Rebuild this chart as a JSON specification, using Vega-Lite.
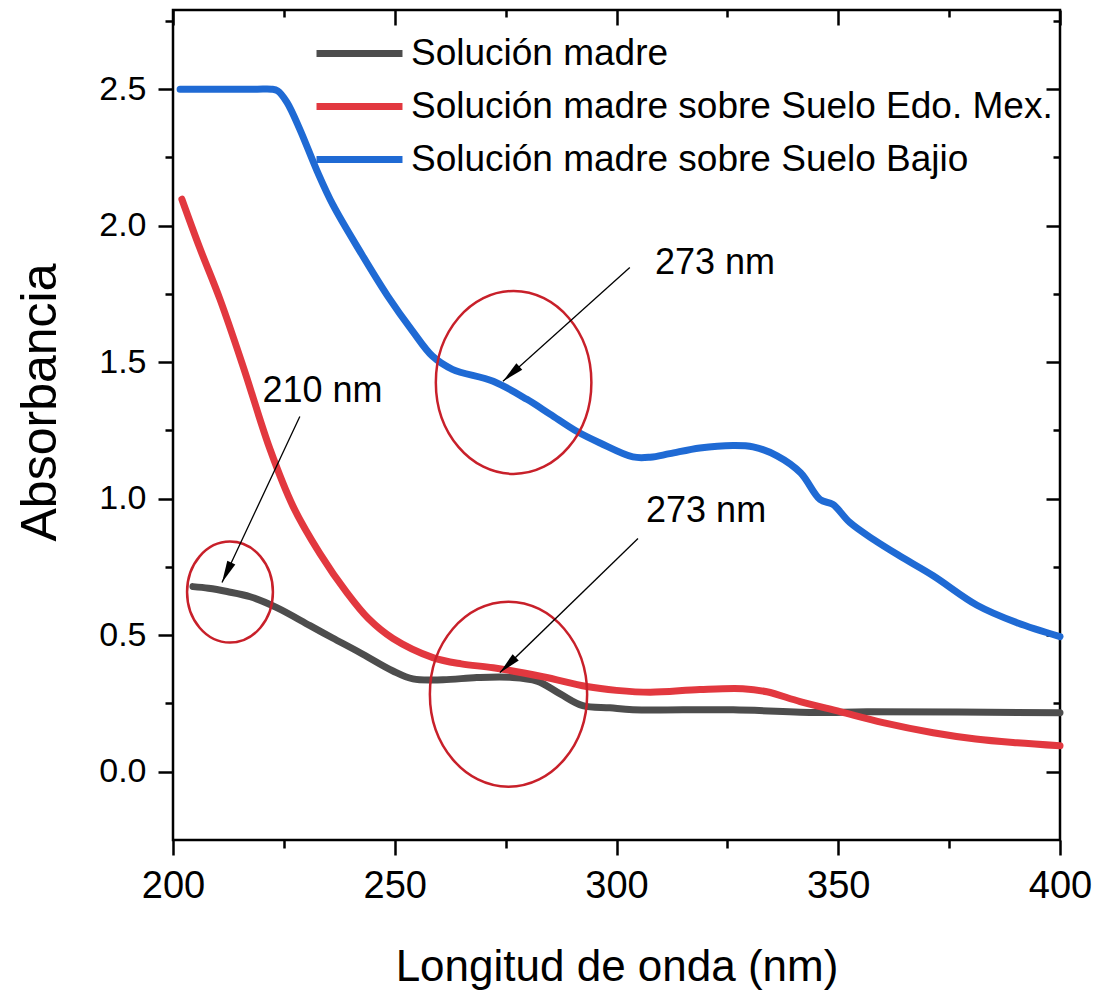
{
  "$schema": "https://vega.github.io/schema/vega-lite/v6.json",
  "width": 887,
  "height": 830,
  "autosize": {"type": "none"},
  "padding": {"left": 173, "top": 10, "right": 60, "bottom": 150},
  "background": "white",
  "config": {
    "font": "Liberation Sans",
    "view": {"stroke": "black", "strokeWidth": 2.5},
    "axis": {"grid": false, "domain": false, "tickColor": "black", "tickWidth": 2.5, "labelColor": "black", "titleColor": "black", "titleFontWeight": "normal"}
  },
  "datasets": {
    "series": [
      {"serie": "Solución madre", "wl": 204.5, "abs": 0.678},
      {"serie": "Solución madre", "wl": 208, "abs": 0.672},
      {"serie": "Solución madre", "wl": 212.2, "abs": 0.660},
      {"serie": "Solución madre", "wl": 217.4, "abs": 0.641},
      {"serie": "Solución madre", "wl": 223.4, "abs": 0.601},
      {"serie": "Solución madre", "wl": 230.9, "abs": 0.535},
      {"serie": "Solución madre", "wl": 236, "abs": 0.49},
      {"serie": "Solución madre", "wl": 242.2, "abs": 0.436},
      {"serie": "Solución madre", "wl": 249.6, "abs": 0.369},
      {"serie": "Solución madre", "wl": 254.1, "abs": 0.340},
      {"serie": "Solución madre", "wl": 260.9, "abs": 0.337},
      {"serie": "Solución madre", "wl": 268.5, "abs": 0.345},
      {"serie": "Solución madre", "wl": 276.0, "abs": 0.346},
      {"serie": "Solución madre", "wl": 282.1, "abs": 0.332},
      {"serie": "Solución madre", "wl": 287.3, "abs": 0.285},
      {"serie": "Solución madre", "wl": 292.4, "abs": 0.242},
      {"serie": "Solución madre", "wl": 298.5, "abs": 0.234},
      {"serie": "Solución madre", "wl": 303.7, "abs": 0.227},
      {"serie": "Solución madre", "wl": 326.3, "abs": 0.227},
      {"serie": "Solución madre", "wl": 345.2, "abs": 0.217},
      {"serie": "Solución madre", "wl": 356.5, "abs": 0.220},
      {"serie": "Solución madre", "wl": 400, "abs": 0.216},
      {"serie": "Solución madre sobre Suelo Edo. Mex.", "wl": 202.0, "abs": 2.097},
      {"serie": "Solución madre sobre Suelo Edo. Mex.", "wl": 206, "abs": 1.92},
      {"serie": "Solución madre sobre Suelo Edo. Mex.", "wl": 210.6, "abs": 1.730},
      {"serie": "Solución madre sobre Suelo Edo. Mex.", "wl": 215.8, "abs": 1.485},
      {"serie": "Solución madre sobre Suelo Edo. Mex.", "wl": 221.9, "abs": 1.180},
      {"serie": "Solución madre sobre Suelo Edo. Mex.", "wl": 227.1, "abs": 0.971},
      {"serie": "Solución madre sobre Suelo Edo. Mex.", "wl": 233.1, "abs": 0.800},
      {"serie": "Solución madre sobre Suelo Edo. Mex.", "wl": 239.2, "abs": 0.656},
      {"serie": "Solución madre sobre Suelo Edo. Mex.", "wl": 244, "abs": 0.562},
      {"serie": "Solución madre sobre Suelo Edo. Mex.", "wl": 249.6, "abs": 0.488},
      {"serie": "Solución madre sobre Suelo Edo. Mex.", "wl": 258.6, "abs": 0.418},
      {"serie": "Solución madre sobre Suelo Edo. Mex.", "wl": 265, "abs": 0.395},
      {"serie": "Solución madre sobre Suelo Edo. Mex.", "wl": 272.2, "abs": 0.381},
      {"serie": "Solución madre sobre Suelo Edo. Mex.", "wl": 283.4, "abs": 0.348},
      {"serie": "Solución madre sobre Suelo Edo. Mex.", "wl": 293.3, "abs": 0.312},
      {"serie": "Solución madre sobre Suelo Edo. Mex.", "wl": 300, "abs": 0.298},
      {"serie": "Solución madre sobre Suelo Edo. Mex.", "wl": 307.6, "abs": 0.291},
      {"serie": "Solución madre sobre Suelo Edo. Mex.", "wl": 318.8, "abs": 0.301},
      {"serie": "Solución madre sobre Suelo Edo. Mex.", "wl": 328.5, "abs": 0.304},
      {"serie": "Solución madre sobre Suelo Edo. Mex.", "wl": 333.9, "abs": 0.293},
      {"serie": "Solución madre sobre Suelo Edo. Mex.", "wl": 341.4, "abs": 0.257},
      {"serie": "Solución madre sobre Suelo Edo. Mex.", "wl": 350.4, "abs": 0.220},
      {"serie": "Solución madre sobre Suelo Edo. Mex.", "wl": 360.1, "abs": 0.180},
      {"serie": "Solución madre sobre Suelo Edo. Mex.", "wl": 371.4, "abs": 0.143},
      {"serie": "Solución madre sobre Suelo Edo. Mex.", "wl": 381, "abs": 0.120},
      {"serie": "Solución madre sobre Suelo Edo. Mex.", "wl": 390.3, "abs": 0.106},
      {"serie": "Solución madre sobre Suelo Edo. Mex.", "wl": 400, "abs": 0.095},
      {"serie": "Solución madre sobre Suelo Bajio", "wl": 201.6, "abs": 2.5},
      {"serie": "Solución madre sobre Suelo Bajio", "wl": 212, "abs": 2.5},
      {"serie": "Solución madre sobre Suelo Bajio", "wl": 219, "abs": 2.5},
      {"serie": "Solución madre sobre Suelo Bajio", "wl": 222.2, "abs": 2.5},
      {"serie": "Solución madre sobre Suelo Bajio", "wl": 223.6, "abs": 2.494},
      {"serie": "Solución madre sobre Suelo Bajio", "wl": 225.7, "abs": 2.452},
      {"serie": "Solución madre sobre Suelo Bajio", "wl": 228.6, "abs": 2.353},
      {"serie": "Solución madre sobre Suelo Bajio", "wl": 232.5, "abs": 2.200},
      {"serie": "Solución madre sobre Suelo Bajio", "wl": 236.1, "abs": 2.075},
      {"serie": "Solución madre sobre Suelo Bajio", "wl": 242.2, "abs": 1.905},
      {"serie": "Solución madre sobre Suelo Bajio", "wl": 248.3, "abs": 1.745},
      {"serie": "Solución madre sobre Suelo Bajio", "wl": 254.1, "abs": 1.612},
      {"serie": "Solución madre sobre Suelo Bajio", "wl": 258.5, "abs": 1.522},
      {"serie": "Solución madre sobre Suelo Bajio", "wl": 263, "abs": 1.474},
      {"serie": "Solución madre sobre Suelo Bajio", "wl": 272.2, "abs": 1.430},
      {"serie": "Solución madre sobre Suelo Bajio", "wl": 279.8, "abs": 1.364},
      {"serie": "Solución madre sobre Suelo Bajio", "wl": 285, "abs": 1.31},
      {"serie": "Solución madre sobre Suelo Bajio", "wl": 291.1, "abs": 1.246},
      {"serie": "Solución madre sobre Suelo Bajio", "wl": 296.3, "abs": 1.204},
      {"serie": "Solución madre sobre Suelo Bajio", "wl": 303.7, "abs": 1.153},
      {"serie": "Solución madre sobre Suelo Bajio", "wl": 307.6, "abs": 1.152},
      {"serie": "Solución madre sobre Suelo Bajio", "wl": 312, "abs": 1.165},
      {"serie": "Solución madre sobre Suelo Bajio", "wl": 318.8, "abs": 1.186},
      {"serie": "Solución madre sobre Suelo Bajio", "wl": 326.3, "abs": 1.195},
      {"serie": "Solución madre sobre Suelo Bajio", "wl": 330.8, "abs": 1.190},
      {"serie": "Solución madre sobre Suelo Bajio", "wl": 336.2, "abs": 1.157},
      {"serie": "Solución madre sobre Suelo Bajio", "wl": 341.5, "abs": 1.095},
      {"serie": "Solución madre sobre Suelo Bajio", "wl": 345.9, "abs": 0.997},
      {"serie": "Solución madre sobre Suelo Bajio", "wl": 348.8, "abs": 0.979},
      {"serie": "Solución madre sobre Suelo Bajio", "wl": 352.6, "abs": 0.913},
      {"serie": "Solución madre sobre Suelo Bajio", "wl": 358, "abs": 0.85},
      {"serie": "Solución madre sobre Suelo Bajio", "wl": 363.9, "abs": 0.790},
      {"serie": "Solución madre sobre Suelo Bajio", "wl": 371.4, "abs": 0.718},
      {"serie": "Solución madre sobre Suelo Bajio", "wl": 381.3, "abs": 0.610},
      {"serie": "Solución madre sobre Suelo Bajio", "wl": 390.3, "abs": 0.546},
      {"serie": "Solución madre sobre Suelo Bajio", "wl": 400, "abs": 0.495}
    ],
    "circles": [
      {"id": "e1", "wl": 212.85, "abs": 0.658},
      {"id": "e2", "wl": 276.8, "abs": 1.426},
      {"id": "e3", "wl": 275.65, "abs": 0.284}
    ],
    "arrows": [
      {"id": "a1", "wl": 228.6, "abs": 1.301, "wl2": 211.05, "abs2": 0.693},
      {"id": "a2", "wl": 303.0, "abs": 1.847, "wl2": 274.4, "abs2": 1.430},
      {"id": "a3", "wl": 304.85, "abs": 0.854, "wl2": 273.7, "abs2": 0.363}
    ],
    "notes": [
      {"label": "210 nm", "wl": 233.7, "abs": 1.353},
      {"label": "273 nm", "wl": 322.2, "abs": 1.822},
      {"label": "273 nm", "wl": 320.2, "abs": 0.913}
    ]
  },
  "resolve": {"axis": {"x": "independent", "y": "independent"}},
  "layer": [
    {
      "data": {"name": "series"},
      "mark": {"type": "line", "strokeWidth": 7, "interpolate": "catmull-rom", "strokeCap": "round", "strokeJoin": "round"},
      "encoding": {
        "x": {"field": "wl", "type": "quantitative",
          "scale": {"domain": [200, 400], "nice": false, "zero": false},
          "axis": {"orient": "bottom", "values": [200, 225, 250, 275, 300, 325, 350, 375, 400],
            "labelExpr": "datum.value % 50 === 0 ? format(datum.value, 'd') : ''",
            "tickSize": {"condition": {"test": "datum.value % 50 === 0", "value": 15}, "value": 8},
            "labelFontSize": 38, "labelPadding": 12, "labelFlush": false, "labelOverlap": false, "labelBound": false,
            "title": "Longitud de onda (nm)", "titleFontSize": 44, "titleY": 140, "titleBaseline": "alphabetic"}},
        "y": {"field": "abs", "type": "quantitative",
          "scale": {"domain": [-0.25, 2.79], "nice": false, "zero": false},
          "axis": {"orient": "left", "values": [0, 0.25, 0.5, 0.75, 1, 1.25, 1.5, 1.75, 2, 2.25, 2.5, 2.75],
            "labelExpr": "(datum.value * 4) % 2 === 0 ? format(datum.value, '.1f') : ''",
            "tickSize": {"condition": {"test": "(datum.value * 4) % 2 === 0", "value": 15}, "value": 8},
            "labelFontSize": 34, "labelPadding": 12, "labelFlush": false, "labelOverlap": false, "labelBound": false,
            "title": "Absorbancia", "titleFontSize": 50, "titleX": -118, "titleY": 392, "titleBaseline": "alphabetic", "titleAlign": "center", "titleAngle": -90}},
        "color": {"field": "serie", "type": "nominal",
          "scale": {"domain": ["Solución madre", "Solución madre sobre Suelo Edo. Mex.", "Solución madre sobre Suelo Bajio"],
                    "range": ["#4d4d4d", "#e2383f", "#1f6ad4"]},
          "legend": {"orient": "none", "legendX": 168, "legendY": 25, "title": null, "padding": 0,
            "symbolType": "M-4,0L4,0", "symbolSize": 462, "symbolStrokeWidth": 7,
            "labelFontSize": 37, "labelColor": "black", "labelOffset": 33, "labelLimit": 2000, "rowPadding": 15}}
      }
    },
    {
      "data": {"name": "circles"},
      "transform": [{"filter": "datum.id === 'e1'"}],
      "mark": {"type": "point", "shape": "M0,-1C0.4695,-1 0.85,-0.5523 0.85,0C0.85,0.5523 0.4695,1 0,1C-0.4695,1 -0.85,0.5523 -0.85,0C-0.85,-0.5523 -0.4695,-1 0,-1Z", "size": 10201, "filled": false, "color": "#c8202a", "strokeWidth": 2.5, "opacity": 1},
      "encoding": {
        "x": {"field": "wl", "type": "quantitative", "scale": {"domain": [200, 400], "nice": false, "zero": false},
          "axis": {"orient": "top", "values": [200, 225, 250, 275, 300, 325, 350, 375, 400], "labels": false, "title": null,
            "tickSize": {"condition": {"test": "datum.value % 50 === 0", "value": -15}, "value": -7}}},
        "y": {"field": "abs", "type": "quantitative", "scale": {"domain": [-0.25, 2.79], "nice": false, "zero": false},
          "axis": {"orient": "right", "values": [0, 0.25, 0.5, 0.75, 1, 1.25, 1.5, 1.75, 2, 2.25, 2.5, 2.75], "labels": false, "title": null,
            "tickSize": {"condition": {"test": "(datum.value * 4) % 2 === 0", "value": -14}, "value": -7}}}
      }
    },
    {
      "data": {"name": "circles"},
      "transform": [{"filter": "datum.id === 'e2'"}],
      "mark": {"type": "point", "shape": "M0,-1C0.4695,-1 0.85,-0.5523 0.85,0C0.85,0.5523 0.4695,1 0,1C-0.4695,1 -0.85,0.5523 -0.85,0C-0.85,-0.5523 -0.4695,-1 0,-1Z", "size": 33489, "filled": false, "color": "#c8202a", "strokeWidth": 2.5, "opacity": 1},
      "encoding": {
        "x": {"field": "wl", "type": "quantitative", "scale": {"domain": [200, 400], "nice": false, "zero": false}, "axis": null},
        "y": {"field": "abs", "type": "quantitative", "scale": {"domain": [-0.25, 2.79], "nice": false, "zero": false}, "axis": null}
      }
    },
    {
      "data": {"name": "circles"},
      "transform": [{"filter": "datum.id === 'e3'"}],
      "mark": {"type": "point", "shape": "M0,-1C0.4695,-1 0.85,-0.5523 0.85,0C0.85,0.5523 0.4695,1 0,1C-0.4695,1 -0.85,0.5523 -0.85,0C-0.85,-0.5523 -0.4695,-1 0,-1Z", "size": 34225, "filled": false, "color": "#c8202a", "strokeWidth": 2.5, "opacity": 1},
      "encoding": {
        "x": {"field": "wl", "type": "quantitative", "scale": {"domain": [200, 400], "nice": false, "zero": false}, "axis": null},
        "y": {"field": "abs", "type": "quantitative", "scale": {"domain": [-0.25, 2.79], "nice": false, "zero": false}, "axis": null}
      }
    },
    {
      "data": {"name": "arrows"},
      "mark": {"type": "rule", "strokeWidth": 1.3, "color": "black"},
      "encoding": {
        "x": {"field": "wl", "type": "quantitative", "scale": {"domain": [200, 400], "nice": false, "zero": false}, "axis": null},
        "y": {"field": "abs", "type": "quantitative", "scale": {"domain": [-0.25, 2.79], "nice": false, "zero": false}, "axis": null},
        "x2": {"field": "wl2"},
        "y2": {"field": "abs2"}
      }
    },
    {
      "data": {"name": "arrows"},
      "transform": [{"filter": "datum.id === 'a1'"}],
      "mark": {"type": "point", "shape": "M0,0L0.4,2L-0.4,2Z", "size": 484, "filled": true, "color": "black", "opacity": 1, "angle": 205},
      "encoding": {
        "x": {"field": "wl2", "type": "quantitative", "scale": {"domain": [200, 400], "nice": false, "zero": false}, "axis": null},
        "y": {"field": "abs2", "type": "quantitative", "scale": {"domain": [-0.25, 2.79], "nice": false, "zero": false}, "axis": null}
      }
    },
    {
      "data": {"name": "arrows"},
      "transform": [{"filter": "datum.id === 'a2'"}],
      "mark": {"type": "point", "shape": "M0,0L0.4,2L-0.4,2Z", "size": 484, "filled": true, "color": "black", "opacity": 1, "angle": 228},
      "encoding": {
        "x": {"field": "wl2", "type": "quantitative", "scale": {"domain": [200, 400], "nice": false, "zero": false}, "axis": null},
        "y": {"field": "abs2", "type": "quantitative", "scale": {"domain": [-0.25, 2.79], "nice": false, "zero": false}, "axis": null}
      }
    },
    {
      "data": {"name": "arrows"},
      "transform": [{"filter": "datum.id === 'a3'"}],
      "mark": {"type": "point", "shape": "M0,0L0.4,2L-0.4,2Z", "size": 484, "filled": true, "color": "black", "opacity": 1, "angle": 226},
      "encoding": {
        "x": {"field": "wl2", "type": "quantitative", "scale": {"domain": [200, 400], "nice": false, "zero": false}, "axis": null},
        "y": {"field": "abs2", "type": "quantitative", "scale": {"domain": [-0.25, 2.79], "nice": false, "zero": false}, "axis": null}
      }
    },
    {
      "data": {"name": "notes"},
      "mark": {"type": "text", "fontSize": 36, "align": "center", "baseline": "alphabetic", "color": "black"},
      "encoding": {
        "x": {"field": "wl", "type": "quantitative", "scale": {"domain": [200, 400], "nice": false, "zero": false}, "axis": null},
        "y": {"field": "abs", "type": "quantitative", "scale": {"domain": [-0.25, 2.79], "nice": false, "zero": false}, "axis": null},
        "text": {"field": "label"}
      }
    }
  ]
}
